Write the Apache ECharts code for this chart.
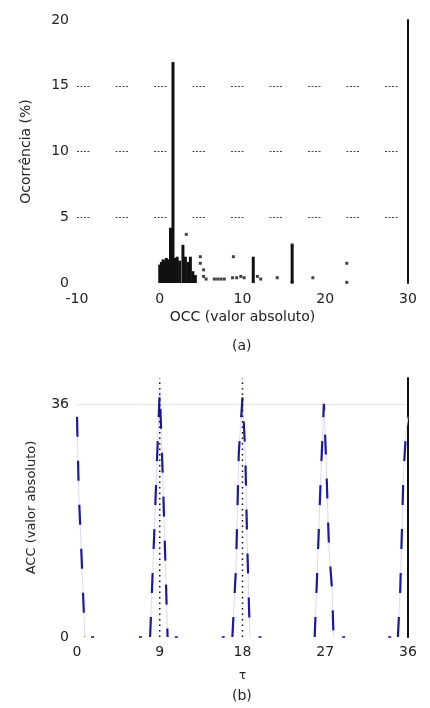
<!DOCTYPE html>
<html>
<head>
<meta charset="utf-8">
<script src="https://cdn.jsdelivr.net/npm/echarts@6/dist/echarts.min.js"></script>
<style>html,body{margin:0;padding:0;background:#fff;}#c{width:430px;height:708px;}</style>
</head>
<body>
<div id="c"></div>
<script>
// ---- Panel (a): occurrence (%) vs OCC ----
var occTicks = [-10, 0, 10, 20, 30];
var occPctTicks = [0, 5, 10, 15, 20];
var stemX = [0.0, 0.2, 0.4, 0.6, 0.8, 1.0, 1.3, 1.6, 1.9, 2.1, 2.4, 2.8, 3.1, 3.4, 3.7, 4.0, 4.3, 11.3, 16.0];
var stemY = [1.4, 1.6, 1.8, 1.7, 1.9, 1.8, 4.2, 16.8, 1.9, 2.0, 1.7, 2.9, 2.0, 1.6, 2.0, 0.9, 0.6, 2.0, 2.9];
var dotX = [3.2, 4.9, 4.9, 5.3, 5.3, 5.6, 6.6, 7.0, 7.4, 7.8, 8.9, 8.8, 9.3, 9.8, 10.2, 11.8, 12.2, 14.2, 18.5, 22.6, 22.6, 16.0, 16.0];
var dotY = [3.7, 2.0, 1.5, 1.0, 0.5, 0.3, 0.3, 0.3, 0.3, 0.3, 2.0, 0.4, 0.4, 0.5, 0.4, 0.5, 0.3, 0.4, 0.4, 1.5, 0.05, 2.9, 0.05];

// ---- Panel (b): ACC vs lag ----
var lagTicks = [0, 9, 18, 27, 36];
var accTicks = [0, 36];
var accLag = [0, 0.2, 0.45, 0.65, 0.85, null,
              7.95, 8.4, 8.8, 9.0, 9.35, 9.6, 9.85, null,
              16.9, 17.3, 17.6, 18.0, 18.3, 18.5, 18.8, null,
              25.85, 26.1, 26.55, 26.85, 27.1, 27.4, 27.75, 27.9, null,
              34.9, 35.15, 35.35, 35.5, 35.8, 36.0];
var accVal = [34, 22, 14, 7, 0, null,
              0, 16, 31, 38, 24, 12, 0, null,
              0, 11, 28.5, 37, 28.5, 15, 0, null,
              0, 9, 26, 36, 27, 14, 7, 0, null,
              0, 7, 17, 25, 32, 34];
var zeroDotLag = [1.7, 6.9, 10.8, 15.9, 19.9, 29.0, 34.0];
var zeroDotVal = [0, 0, 0, 0, 0, 0, 0];
var refLag = [9, 9, null, 18, 18];
var refVal = [0, 40, null, 0, 40];

function pairs(xs, ys) {
  return xs.map(function (x, i) { return [x, ys[i]]; });
}
function pairsBreak(xs, ys) {
  return xs.map(function (x, i) { return (x === null) ? '-' : [x, ys[i]]; });
}

var txt = '#222';
var font = 'DejaVu Sans, Verdana, sans-serif';
var gridDash = [2, 1.5, 2, 1.5, 2, 1.5, 2, 26];

var chart = echarts.init(document.getElementById('c'), null, {renderer: 'canvas'});
chart.setOption({
  backgroundColor: '#fff',
  animation: false,
  textStyle: {fontFamily: font, color: txt},
  grid: [
    {left: 77, right: 22, top: 20, height: 263},
    {left: 77, right: 22, top: 378, height: 259}
  ],
  xAxis: [
    {
      gridIndex: 0, type: 'value', min: occTicks[0], max: occTicks[occTicks.length - 1], interval: 10,
      axisLine: {show: false}, axisTick: {show: false},
      axisLabel: {color: txt, fontSize: 14, margin: 9, fontFamily: font},
      splitLine: {show: false},
      name: 'OCC (valor absoluto)', nameLocation: 'middle', nameGap: 27,
      nameTextStyle: {color: txt, fontSize: 14, fontFamily: font}
    },
    {
      gridIndex: 1, type: 'value', min: lagTicks[0], max: lagTicks[lagTicks.length - 1], interval: 9,
      axisLine: {show: false}, axisTick: {show: false},
      axisLabel: {color: txt, fontSize: 14, margin: 8, fontFamily: font},
      splitLine: {show: false},
      name: 'τ', nameLocation: 'middle', nameGap: 33,
      nameTextStyle: {color: txt, fontSize: 12, fontFamily: font}
    }
  ],
  yAxis: [
    {
      gridIndex: 0, type: 'value', min: occPctTicks[0], max: occPctTicks[occPctTicks.length - 1], interval: 5,
      axisLine: {show: false}, axisTick: {show: false},
      axisLabel: {color: txt, fontSize: 14, margin: 8, fontFamily: font},
      splitLine: {show: true, showMinLine: false, showMaxLine: false,
        lineStyle: {color: '#444', width: 1, type: gridDash}},
      name: 'Ocorrência (%)', nameLocation: 'middle', nameGap: 44,
      nameTextStyle: {color: txt, fontSize: 14, fontFamily: font}
    },
    {
      gridIndex: 0, type: 'value', position: 'right', min: 0, max: 20,
      axisLine: {show: true, lineStyle: {color: '#111', width: 2}},
      axisTick: {show: false}, axisLabel: {show: false}, splitLine: {show: false}
    },
    {
      gridIndex: 1, type: 'value', min: 0, max: 40, interval: 36,
      axisLine: {show: false}, axisTick: {show: false},
      axisLabel: {color: txt, fontSize: 14, margin: 8, fontFamily: font,
        formatter: function (v) { return accTicks.indexOf(v) >= 0 ? String(v) : ''; }},
      splitLine: {show: true, showMinLine: false, showMaxLine: false,
        lineStyle: {color: '#e4e4e4', width: 1}},
      name: 'ACC (valor absoluto)', nameLocation: 'middle', nameGap: 39,
      nameTextStyle: {color: txt, fontSize: 13, fontFamily: font}
    },
    {
      gridIndex: 1, type: 'value', position: 'right', min: 0, max: 40,
      axisLine: {show: true, lineStyle: {color: '#111', width: 2}},
      axisTick: {show: false}, axisLabel: {show: false}, splitLine: {show: false}
    }
  ],
  graphic: [
    {type: 'text', left: 232, top: 339, style: {text: '(a)', fill: txt, font: '14px ' + font}},
    {type: 'text', left: 232, top: 689, style: {text: '(b)', fill: txt, font: '14px ' + font}}
  ],
  series: [
    {
      type: 'bar', xAxisIndex: 0, yAxisIndex: 0, barWidth: 3, barGap: '-100%',
      itemStyle: {color: '#111'}, data: pairs(stemX, stemY), silent: true
    },
    {
      type: 'scatter', xAxisIndex: 0, yAxisIndex: 0, symbol: 'rect', symbolSize: [3, 3],
      itemStyle: {color: '#111'}, data: pairs(dotX, dotY), silent: true
    },
    {
      type: 'line', xAxisIndex: 1, yAxisIndex: 2, showSymbol: false, connectNulls: false,
      lineStyle: {color: '#dcd8f2', width: 1}, data: pairsBreak(accLag, accVal), silent: true
    },
    {
      type: 'line', xAxisIndex: 1, yAxisIndex: 2, showSymbol: false, connectNulls: false,
      lineStyle: {color: '#1a1aa0', width: 2.2, type: [20, 24]}, data: pairsBreak(accLag, accVal), silent: true
    },
    {
      type: 'scatter', xAxisIndex: 1, yAxisIndex: 2, symbol: 'rect', symbolSize: [3, 2],
      itemStyle: {color: '#1a1aa0'}, data: pairs(zeroDotLag, zeroDotVal), silent: true
    },
    {
      type: 'line', xAxisIndex: 1, yAxisIndex: 2, showSymbol: false, connectNulls: false,
      lineStyle: {color: '#111', width: 1.5, type: [1.5, 4]}, data: pairsBreak(refLag, refVal), silent: true
    }
  ]
});
</script>
</body>
</html>
